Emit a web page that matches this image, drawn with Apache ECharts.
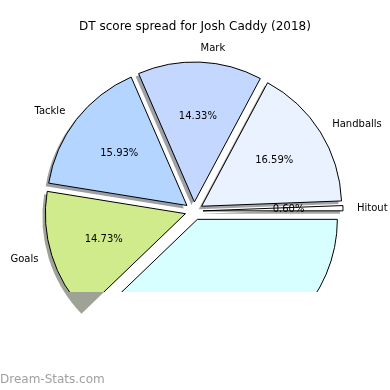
<!DOCTYPE html>
<html><head><meta charset="utf-8">
<script src="https://cdn.jsdelivr.net/npm/echarts@6/dist/echarts.min.js"></script>
<style>
html,body{margin:0;padding:0;background:#fff;}
#wrap{position:relative;width:390px;height:390px;}
#back{position:absolute;left:0;top:0;width:390px;height:390px;}
#clip{position:absolute;left:0;top:0;width:390px;height:292px;overflow:hidden;}
#front{width:390px;height:390px;}
</style></head><body>
<div id="wrap"><div id="back"></div><div id="clip"><div id="front"></div></div></div>
<script>
const categories = ['Hitout', 'Handballs', 'Mark', 'Tackle', 'Goals', 'Kick'];
const percentages = [0.60, 16.59, 14.33, 15.93, 14.73, 37.82];
const sliceColors = ['#ffffff', '#eaf2ff', '#c4d8ff', '#b3d5ff', '#d0eb8c', '#d8ffff'];
const chartTitle = 'DT score spread for Josh Caddy (2018)';
const watermarkText = 'Dream-Stats.com';
const clippedShadowSlice = 'Goals';

const FONT = 'DejaVu Sans';
const CENTER = [194, 211];
const RADIUS = 140;
const EXPLODE = 9;
const SHADOW = 3;

function hexRgb(h) {
  const n = parseInt(h.slice(1), 16);
  return [(n >> 16) & 255, (n >> 8) & 255, n & 255];
}
function shadowRgba(h) {
  const c = hexRgb(h).map(v => Math.round(v * 0.3));
  return 'rgba(' + c.join(',') + ',0.5)';
}
function shadowOnWhite(h) {
  const c = hexRgb(h).map(v => Math.round(127.5 + 0.15 * v));
  return 'rgb(' + c.join(',') + ')';
}

function pieBase(center, radius) {
  return {
    type: 'pie', silent: true,
    center: center, radius: radius,
    startAngle: 0, clockwise: false,
    avoidLabelOverlap: false,
    selectedMode: 'multiple', selectedOffset: EXPLODE,
    emphasis: {disabled: true},
    labelLine: {show: false}
  };
}

/* back layer: the shadow wedge that escapes the clip, and the watermark */
const back = echarts.init(document.getElementById('back'), null, {renderer: 'canvas'});
back.setOption({
  backgroundColor: '#ffffff',
  animation: false,
  graphic: [{
    type: 'text', left: 0, top: 374,
    style: {text: watermarkText, fill: '#a0a0a0', font: '12px "' + FONT + '"'}
  }],
  series: [Object.assign(pieBase([CENTER[0] - SHADOW, CENTER[1] + SHADOW], RADIUS), {
    label: {show: false},
    data: categories.map((c, i) => ({
      name: c, value: percentages[i], selected: true,
      itemStyle: {color: c === clippedShadowSlice ? shadowOnWhite(sliceColors[i]) : 'transparent', borderWidth: 0}
    }))
  })]
});

/* front layer: shadows, the pie and its labels, clipped at the bottom */
const front = echarts.init(document.getElementById('front'), null, {renderer: 'canvas'});
front.setOption({
  backgroundColor: 'transparent',
  animation: false,
  title: {
    text: chartTitle, left: 'center', top: 21, padding: 0,
    textStyle: {fontFamily: FONT, fontSize: 12, fontWeight: 'normal', color: '#000'}
  },
  series: [
    Object.assign(pieBase([CENTER[0] - SHADOW, CENTER[1] + SHADOW], RADIUS), {
      label: {show: false},
      data: categories.map((c, i) => ({
        name: c, value: percentages[i], selected: true,
        itemStyle: {color: c === clippedShadowSlice ? 'transparent' : shadowRgba(sliceColors[i]), borderWidth: 0}
      }))
    }),
    Object.assign(pieBase(CENTER, RADIUS), {
      label: {
        show: true, position: 'outside', formatter: '{b}',
        fontFamily: FONT, fontSize: 10, color: '#000', distanceToLabelLine: 0, overflow: 'none'
      },
      labelLine: {show: false, length: 14, length2: 0},
      data: categories.map((c, i) => ({
        name: c, value: percentages[i], selected: true,
        itemStyle: {color: sliceColors[i], borderColor: '#000', borderWidth: 1}
      }))
    }),
    Object.assign(pieBase(CENTER, RADIUS * 1.18), {
      label: {
        show: true, position: 'inside',
        formatter: p => p.percent.toFixed(2) + '%',
        fontFamily: FONT, fontSize: 10, color: '#000'
      },
      data: categories.map((c, i) => ({
        name: c, value: percentages[i], selected: true,
        itemStyle: {color: 'transparent', borderWidth: 0}
      }))
    })
  ]
});
</script>
</body></html>
